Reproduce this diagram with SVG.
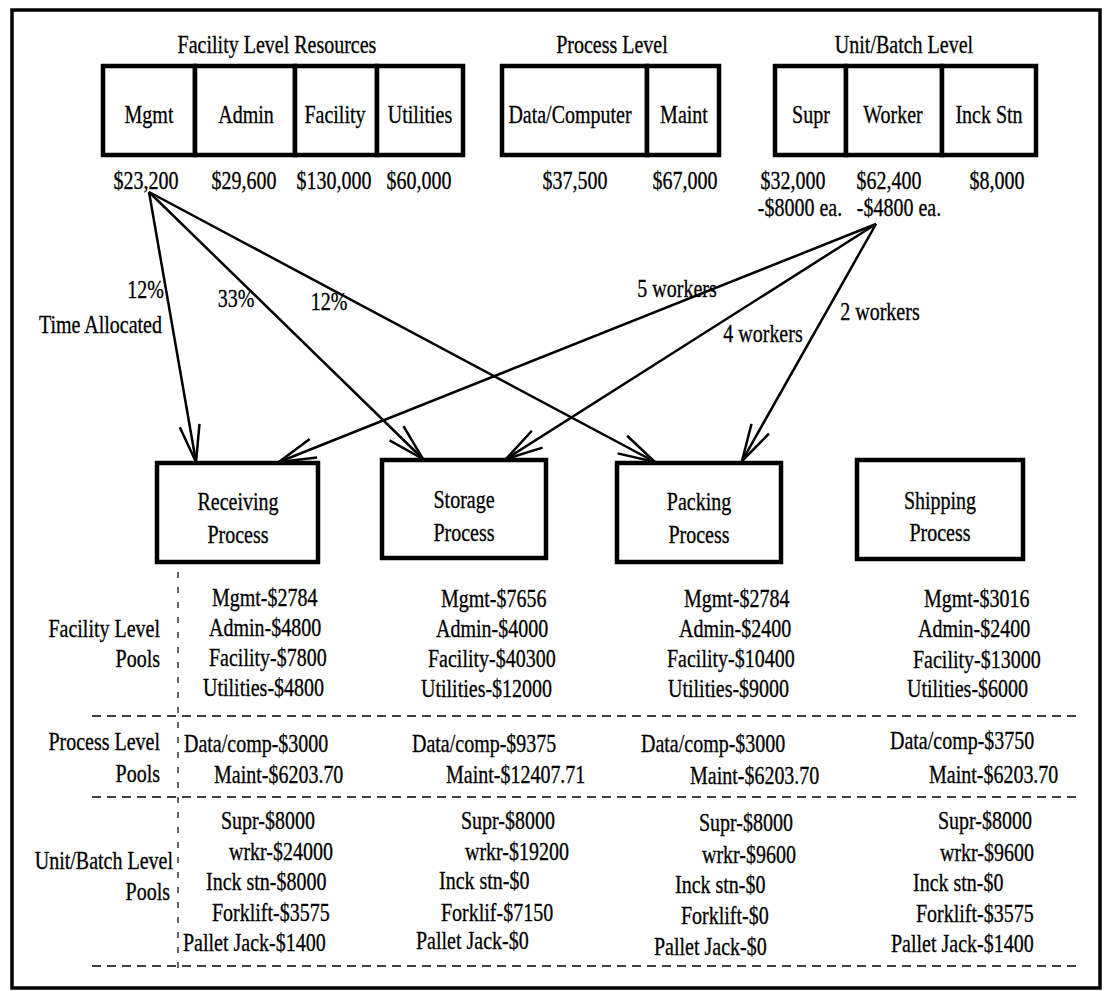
<svg xmlns="http://www.w3.org/2000/svg" width="1105" height="991" viewBox="0 0 1105 991">
<style>
text{font-family:"Liberation Serif","Times New Roman",Tinos,"DejaVu Serif",serif;font-size:20px;fill:#000;stroke:#000;stroke-width:0.25}
.c{text-anchor:middle}
.e{text-anchor:end}
.box{fill:#fff;stroke:#000;stroke-width:4.5}
.conn{stroke:#000;stroke-width:2.5;fill:none;marker-end:url(#arr)}
.dash{stroke:#000;stroke-width:1.5;stroke-dasharray:9 6;fill:none}
.vdash{stroke:#000;stroke-width:1.2;stroke-dasharray:6 9;fill:none}
</style>
<defs>
<marker id="arr" markerUnits="userSpaceOnUse" viewBox="-40 -12 42 24" markerWidth="42" markerHeight="24" refX="0" refY="0" orient="auto" overflow="visible">
<path d="M-37,-10 L0,0 L-37,10" fill="none" stroke="#000" stroke-width="2.5"/>
</marker>
</defs>
<rect x="0" y="0" width="1105" height="991" fill="#fff"/>
<rect x="12" y="10" width="1088" height="978" fill="none" stroke="#000" stroke-width="3.5"/>

<g id="facility-resources">
<text class="c" x="277" transform="matrix(1 0 0 1.22 0 53)">Facility Level Resources</text>
<rect class="box" x="103" y="66" width="92" height="89"/>
<rect class="box" x="195" y="66" width="100" height="89"/>
<rect class="box" x="295" y="66" width="82" height="89"/>
<rect class="box" x="377" y="66" width="86" height="89"/>
<text class="c" x="149" transform="matrix(1 0 0 1.22 0 123)">Mgmt</text>
<text class="c" x="246" transform="matrix(1 0 0 1.22 0 123)">Admin</text>
<text class="c" x="335" transform="matrix(1 0 0 1.22 0 123)">Facility</text>
<text class="c" x="420" transform="matrix(1 0 0 1.22 0 123)">Utilities</text>
<text class="c" x="146" transform="matrix(1 0 0 1.22 0 189)">$23,200</text>
<text class="c" x="244" transform="matrix(1 0 0 1.22 0 189)">$29,600</text>
<text class="c" x="334" transform="matrix(1 0 0 1.22 0 189)">$130,000</text>
<text class="c" x="419" transform="matrix(1 0 0 1.22 0 189)">$60,000</text>
</g>

<g id="process-resources">
<text class="c" x="612" transform="matrix(1 0 0 1.22 0 53)">Process Level</text>
<rect class="box" x="502" y="66" width="145" height="89"/>
<rect class="box" x="647" y="66" width="72" height="89"/>
<text class="c" x="570" transform="matrix(1 0 0 1.22 0 123)">Data/Computer</text>
<text class="c" x="684" transform="matrix(1 0 0 1.22 0 123)">Maint</text>
<text class="c" x="575" transform="matrix(1 0 0 1.22 0 189)">$37,500</text>
<text class="c" x="685" transform="matrix(1 0 0 1.22 0 189)">$67,000</text>
</g>

<g id="unit-resources">
<text class="c" x="904" transform="matrix(1 0 0 1.22 0 53)">Unit/Batch Level</text>
<rect class="box" x="775" y="66" width="71" height="89"/>
<rect class="box" x="846" y="66" width="96" height="89"/>
<rect class="box" x="942" y="66" width="94" height="89"/>
<text class="c" x="811" transform="matrix(1 0 0 1.22 0 123)">Supr</text>
<text class="c" x="893" transform="matrix(1 0 0 1.22 0 123)">Worker</text>
<text class="c" x="989" transform="matrix(1 0 0 1.22 0 123)">Inck Stn</text>
<text class="c" x="793" transform="matrix(1 0 0 1.22 0 189)">$32,000</text>
<text class="c" x="889" transform="matrix(1 0 0 1.22 0 189)">$62,400</text>
<text class="c" x="997" transform="matrix(1 0 0 1.22 0 189)">$8,000</text>
<text class="c" x="800" transform="matrix(1 0 0 1.22 0 216)">-$8000 ea.</text>
<text class="c" x="899" transform="matrix(1 0 0 1.22 0 216)">-$4800 ea.</text>
</g>

<g id="connectors">
<line class="conn" x1="149" y1="192" x2="196" y2="462"/>
<line class="conn" x1="149" y1="192" x2="423" y2="459"/>
<line class="conn" x1="149" y1="192" x2="655" y2="462"/>
<line class="conn" x1="876" y1="224" x2="279" y2="462"/>
<line class="conn" x1="876" y1="224" x2="506" y2="459"/>
<line class="conn" x1="876" y1="224" x2="742" y2="461"/>
<text class="e" x="164" transform="matrix(1 0 0 1.22 0 298)">12%</text>
<text class="e" x="162" transform="matrix(1 0 0 1.22 0 333)">Time Allocated</text>
<text class="c" x="236" transform="matrix(1 0 0 1.22 0 307)">33%</text>
<text class="c" x="329" transform="matrix(1 0 0 1.22 0 310)">12%</text>
<text class="c" x="677" transform="matrix(1 0 0 1.22 0 297)">5 workers</text>
<text class="c" x="763" transform="matrix(1 0 0 1.22 0 342)">4 workers</text>
<text class="c" x="880" transform="matrix(1 0 0 1.22 0 320)">2 workers</text>
</g>

<g id="receiving">
<rect class="box" x="157" y="463" width="161" height="99"/>
<text class="c" x="238" transform="matrix(1 0 0 1.22 0 510)">Receiving</text>
<text class="c" x="238" transform="matrix(1 0 0 1.22 0 543)">Process</text>
</g>
<g id="storage">
<rect class="box" x="382" y="460" width="164" height="98"/>
<text class="c" x="464" transform="matrix(1 0 0 1.22 0 508)">Storage</text>
<text class="c" x="464" transform="matrix(1 0 0 1.22 0 541)">Process</text>
</g>
<g id="packing">
<rect class="box" x="617" y="463" width="164" height="99"/>
<text class="c" x="699" transform="matrix(1 0 0 1.22 0 510)">Packing</text>
<text class="c" x="699" transform="matrix(1 0 0 1.22 0 543)">Process</text>
</g>
<g id="shipping">
<rect class="box" x="857" y="460" width="166" height="99"/>
<text class="c" x="940" transform="matrix(1 0 0 1.22 0 509)">Shipping</text>
<text class="c" x="940" transform="matrix(1 0 0 1.22 0 541)">Process</text>
</g>

<g id="pool-grid">
<line class="vdash" x1="178" y1="572" x2="178" y2="968"/>
<line class="dash" x1="92" y1="716" x2="1082" y2="716"/>
<line class="dash" x1="92" y1="797" x2="1082" y2="797"/>
<line class="dash" x1="92" y1="966" x2="1082" y2="966"/>
</g>

<g id="row-labels">
<text class="e" x="160" transform="matrix(1 0 0 1.22 0 637)">Facility Level</text>
<text class="e" x="160" transform="matrix(1 0 0 1.22 0 667)">Pools</text>
<text class="e" x="160" transform="matrix(1 0 0 1.22 0 750)">Process Level</text>
<text class="e" x="160" transform="matrix(1 0 0 1.22 0 782)">Pools</text>
<text class="e" x="173" transform="matrix(1 0 0 1.22 0 869)">Unit/Batch Level</text>
<text class="e" x="170" transform="matrix(1 0 0 1.22 0 900)">Pools</text>
</g>

<g id="receiving-pools">
<text x="212" transform="matrix(1 0 0 1.22 0 606)">Mgmt-$2784</text>
<text x="209" transform="matrix(1 0 0 1.22 0 636)">Admin-$4800</text>
<text x="209" transform="matrix(1 0 0 1.22 0 666)">Facility-$7800</text>
<text x="203" transform="matrix(1 0 0 1.22 0 696)">Utilities-$4800</text>
<text x="184" transform="matrix(1 0 0 1.22 0 752)">Data/comp-$3000</text>
<text x="214" transform="matrix(1 0 0 1.22 0 783)">Maint-$6203.70</text>
<text x="221" transform="matrix(1 0 0 1.22 0 829)">Supr-$8000</text>
<text x="229" transform="matrix(1 0 0 1.22 0 860)">wrkr-$24000</text>
<text x="206" transform="matrix(1 0 0 1.22 0 890)">Inck stn-$8000</text>
<text x="212" transform="matrix(1 0 0 1.22 0 921)">Forklift-$3575</text>
<text x="183" transform="matrix(1 0 0 1.22 0 951)">Pallet Jack-$1400</text>
</g>

<g id="storage-pools">
<text x="441" transform="matrix(1 0 0 1.22 0 607)">Mgmt-$7656</text>
<text x="436" transform="matrix(1 0 0 1.22 0 637)">Admin-$4000</text>
<text x="428" transform="matrix(1 0 0 1.22 0 667)">Facility-$40300</text>
<text x="421" transform="matrix(1 0 0 1.22 0 697)">Utilities-$12000</text>
<text x="412" transform="matrix(1 0 0 1.22 0 752)">Data/comp-$9375</text>
<text x="446" transform="matrix(1 0 0 1.22 0 783)">Maint-$12407.71</text>
<text x="461" transform="matrix(1 0 0 1.22 0 829)">Supr-$8000</text>
<text x="465" transform="matrix(1 0 0 1.22 0 860)">wrkr-$19200</text>
<text x="439" transform="matrix(1 0 0 1.22 0 889)">Inck stn-$0</text>
<text x="441" transform="matrix(1 0 0 1.22 0 921)">Forklif-$7150</text>
<text x="416" transform="matrix(1 0 0 1.22 0 949)">Pallet Jack-$0</text>
</g>

<g id="packing-pools">
<text x="684" transform="matrix(1 0 0 1.22 0 607)">Mgmt-$2784</text>
<text x="679" transform="matrix(1 0 0 1.22 0 637)">Admin-$2400</text>
<text x="667" transform="matrix(1 0 0 1.22 0 667)">Facility-$10400</text>
<text x="668" transform="matrix(1 0 0 1.22 0 697)">Utilities-$9000</text>
<text x="641" transform="matrix(1 0 0 1.22 0 752)">Data/comp-$3000</text>
<text x="690" transform="matrix(1 0 0 1.22 0 784)">Maint-$6203.70</text>
<text x="699" transform="matrix(1 0 0 1.22 0 831)">Supr-$8000</text>
<text x="702" transform="matrix(1 0 0 1.22 0 863)">wrkr-$9600</text>
<text x="675" transform="matrix(1 0 0 1.22 0 893)">Inck stn-$0</text>
<text x="681" transform="matrix(1 0 0 1.22 0 924)">Forklift-$0</text>
<text x="654" transform="matrix(1 0 0 1.22 0 955)">Pallet Jack-$0</text>
</g>

<g id="shipping-pools">
<text x="924" transform="matrix(1 0 0 1.22 0 607)">Mgmt-$3016</text>
<text x="918" transform="matrix(1 0 0 1.22 0 637)">Admin-$2400</text>
<text x="913" transform="matrix(1 0 0 1.22 0 668)">Facility-$13000</text>
<text x="907" transform="matrix(1 0 0 1.22 0 697)">Utilities-$6000</text>
<text x="890" transform="matrix(1 0 0 1.22 0 749)">Data/comp-$3750</text>
<text x="929" transform="matrix(1 0 0 1.22 0 783)">Maint-$6203.70</text>
<text x="938" transform="matrix(1 0 0 1.22 0 829)">Supr-$8000</text>
<text x="940" transform="matrix(1 0 0 1.22 0 861)">wrkr-$9600</text>
<text x="913" transform="matrix(1 0 0 1.22 0 891)">Inck stn-$0</text>
<text x="916" transform="matrix(1 0 0 1.22 0 922)">Forklift-$3575</text>
<text x="891" transform="matrix(1 0 0 1.22 0 952)">Pallet Jack-$1400</text>
</g>
</svg>
